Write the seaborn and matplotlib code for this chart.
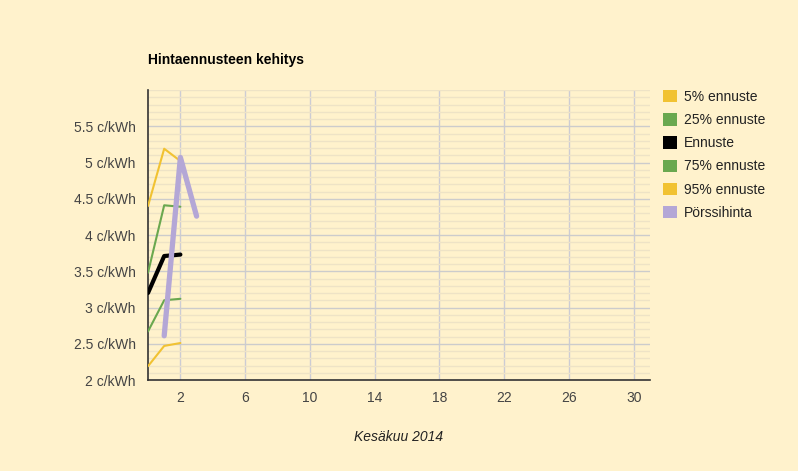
import numpy as np
import pandas as pd
import seaborn as sns
import matplotlib.pyplot as plt
from matplotlib.patches import Patch
from matplotlib.ticker import MultipleLocator

# Päivät (kesäkuu 2014) ja ennusteet
days = [0, 1, 2]
p5 = [2.19, 2.47, 2.51]
p25 = [2.67, 3.10, 3.12]
ennuste = [3.20, 3.71, 3.73]
p75 = [3.48, 4.41, 4.39]
p95 = [4.40, 5.19, 5.02]
spot_days = [1, 2, 3]
spot = [2.61, 5.07, 4.26]

series_names = ['5% ennuste', '25% ennuste', 'Ennuste', '75% ennuste', '95% ennuste', 'Pörssihinta']
colors = ['#F1C232', '#6AA84F', '#000000', '#6AA84F', '#F1C232', '#B4A7D6']
widths = [1.5, 1.5, 3.0, 1.5, 1.5, 3.8]

rows = []
for name, vals in zip(series_names[:5], [p5, p25, ennuste, p75, p95]):
    for d, v in zip(days, vals):
        rows.append({'day': d, 'price': v, 'series': name})
for d, v in zip(spot_days, spot):
    rows.append({'day': d, 'price': v, 'series': 'Pörssihinta'})
df = pd.DataFrame(rows)

sns.set_theme(style="white")
plt.rcParams['font.family'] = ['Liberation Sans', 'DejaVu Sans']
bg = '#FFF2CC'

fig = plt.figure(figsize=(7.98, 4.71), dpi=100, facecolor=bg)
ax = fig.add_axes([148 / 798, 1 - 380 / 471, 502 / 798, 290 / 471])
ax.set_facecolor(bg)

for name, col, lw in zip(series_names, colors, widths):
    sub = df[df['series'] == name]
    sns.lineplot(data=sub, x='day', y='price', color=col, linewidth=lw, ax=ax,
                 legend=False, zorder=3)

ax.set_xlim(0, 31)
ax.set_ylim(2, 6)
ax.set_xticks(np.arange(2, 31, 4))
ax.set_yticks(np.arange(2, 5.6, 0.5))
ax.set_yticklabels([f"{v:g} c/kWh" for v in np.arange(2, 5.6, 0.5)])
ax.yaxis.set_minor_locator(MultipleLocator(0.1))
ax.grid(which='minor', axis='y', color='#EEE3C6', linewidth=1.0, zorder=0)
ax.grid(which='major', axis='y', color='#CCCCCC', linewidth=1.0, zorder=1)
ax.grid(which='major', axis='x', color='#CCCCD4', linewidth=1.0, zorder=1)
ax.tick_params(which='both', length=0, labelsize=10, colors='#444444', pad=9)
ax.tick_params(axis='x', pad=8)
ax.set_xlabel('')
ax.set_ylabel('')
for s in ['top', 'right']:
    ax.spines[s].set_visible(False)
for s in ['left', 'bottom']:
    ax.spines[s].set_color('#333333')
    ax.spines[s].set_linewidth(1.2)

fig.text(148 / 798, 1 - 60 / 471, 'Hintaennusteen kehitys', fontsize=10,
         fontweight='bold', color='#000000', va='center', ha='left')
fig.text(399 / 798, 1 - 437 / 471, 'Kesäkuu 2014', fontsize=10,
         fontstyle='italic', color='#222222', va='center', ha='center')

handles = [Patch(facecolor=c, edgecolor='none') for c in colors]
fig.legend(handles, series_names, loc='upper left',
           bbox_to_anchor=(663 / 798, 1 - 90 / 471), frameon=False,
           borderaxespad=0, borderpad=0, handlelength=1.0, handleheight=1.0,
           handletextpad=0.5, labelspacing=0.66, fontsize=10,
           labelcolor='#222222')

fig.savefig('out.png', dpi=100, facecolor=bg)
